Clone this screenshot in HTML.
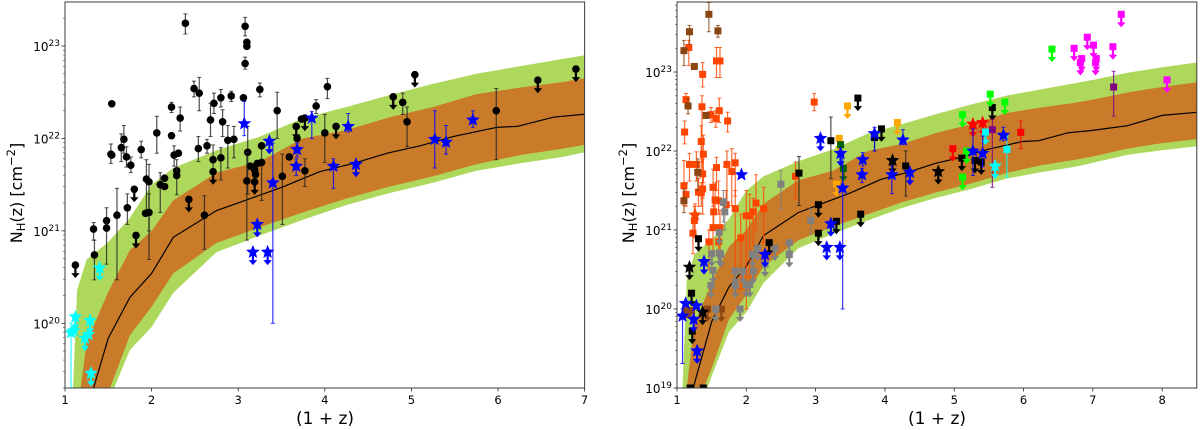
<!DOCTYPE html>
<html lang="en">
<head>
<meta charset="utf-8">
<title>NH(z) versus (1+z)</title>
<style>
html,body{margin:0;padding:0;background:#fff;width:1200px;height:430px;overflow:hidden}
svg{display:block}
text{font-family:"DejaVu Sans","Liberation Sans",sans-serif;fill:#000}
</style>
</head>
<body>
<svg id="chart" xmlns="http://www.w3.org/2000/svg" width="1200" height="430" viewBox="0 0 1200 430">
  <text x="325" y="424" text-anchor="middle" font-size="17">(1 + z)</text>
  <text x="937" y="424" text-anchor="middle" font-size="17">(1 + z)</text>
  <text transform="translate(22,193) rotate(-90)" text-anchor="middle" font-size="16">N<tspan font-size="11.5" dy="3">H</tspan><tspan dy="-3">(z) [cm</tspan><tspan font-size="11.5" dy="-7">−2</tspan><tspan dy="7">]</tspan></text>
  <text transform="translate(634,193) rotate(-90)" text-anchor="middle" font-size="16">N<tspan font-size="11.5" dy="3">H</tspan><tspan dy="-3">(z) [cm</tspan><tspan font-size="11.5" dy="-7">−2</tspan><tspan dy="7">]</tspan></text>
</svg>
<script>
// Shared model bands: x = (1+z), values = log10 NH
const bandX = [1.08,1.14,1.25,1.5,1.75,2.0,2.25,2.75,3.25,3.75,4.25,4.75,5.25,5.75,6.25,6.75,7,7.5,8,8.5];
const outerUpper = [19.0,20.36,20.69,20.88,21.14,21.50,21.68,21.87,22.02,22.22,22.34,22.47,22.59,22.70,22.78,22.86,22.90,22.99,23.06,23.12];
const innerUpper = [17.5,19.0,19.8,20.34,20.79,21.0,21.33,21.63,21.75,22.0,22.09,22.23,22.34,22.48,22.55,22.61,22.65,22.74,22.81,22.87];
const innerLower = [16.0,17.0,18.7,19.25,19.87,20.18,20.54,20.87,21.04,21.2,21.35,21.48,21.59,21.72,21.82,21.89,21.93,22.03,22.10,22.15];
const outerLower = [16.0,16.5,18.4,19.15,19.71,19.96,20.33,20.77,20.95,21.12,21.28,21.41,21.52,21.65,21.73,21.80,21.85,21.95,22.01,22.06];
const medianX = [1.08,1.14,1.25,1.5,1.75,2.0,2.25,2.75,3.08,3.5,3.94,4.33,4.72,5.10,5.48,5.99,6.22,6.64,6.98,7.5,8,8.5];
const medianY = [18,18.5,19.05,19.84,20.28,20.54,20.93,21.22,21.33,21.47,21.64,21.73,21.84,21.92,22.02,22.12,22.13,22.23,22.26,22.32,22.45,22.49];

// Left panel: [x, log10 NH, errHigh, errLow]
const leftBlackPoints = [
[2.39,23.245,23.347,23.13],[3.08,23.213,23.31,23.11],[3.10,23.04],[3.10,22.996],[3.08,22.81,22.88,22.75],[1.54,22.375],
[2.49,22.54,22.62,22.45],[2.55,22.49,22.66,22.30],[3.25,22.53,22.60,22.45],[4.03,22.56,22.65,22.43],[2.72,22.38,22.49,22.27],
[2.80,22.44,22.53,22.34],[2.92,22.46,22.51,22.40],[3.06,22.44],[2.23,22.34,22.39,22.28],[2.33,22.22,22.34,22.08],
[2.68,22.20,22.38,22.02],[2.82,22.18,22.31,22.02],[3.45,22.30,22.50,22.0],[3.90,22.35,22.42,22.27],[3.73,22.21],[3.68,22.0],
[2.06,22.06,22.24,21.84],[1.68,21.99,22.14,21.84],[2.23,22.03],[2.88,21.98,22.14,21.68],[2.95,21.99,22.13,21.79],
[4.0,22.06,22.26,21.74],[1.65,21.90,22.05,21.75],[1.53,21.83,21.94,21.73],[1.54,21.82],[1.71,21.80,21.91,21.69],
[1.76,21.71,21.80,21.63],[1.88,21.88,21.97,21.79],[2.54,21.89,22.02,21.75],[2.64,21.92,21.99,21.84],[2.31,21.84],
[2.26,21.82,21.92,21.7],[2.71,21.77,21.93,21.55],[2.80,21.79,21.90,21.55],[3.11,21.85,22.13,21.4],[3.27,21.92,21.94,21.33],
[3.22,21.73],[3.27,21.74],[3.14,21.70],[3.19,21.66],[3.20,21.61],[3.59,21.80],[3.77,21.65,21.78,21.48],[3.51,21.59,21.83,21.07],
[2.29,21.65],[2.29,21.60,21.77,21.39],[2.15,21.57],[2.15,21.48],[2.10,21.50,21.63,21.2],[1.94,21.56,21.77,21.2],
[1.97,21.53,21.72,21.0],[1.97,21.20,21.4,20.69],[1.93,21.19],[3.10,21.54,21.85,20.9],[2.61,21.17,21.38,20.80],
[1.72,21.25,21.4,21.07],[1.60,21.17,21.46,20.47],[1.48,21.11,21.25,21.0],[1.48,21.03,21.11,20.64],[1.33,21.02,21.09,20.9],
[1.34,20.74,20.90,20.47],[4.90,22.39,22.49,22.26],[4.95,22.18,22.34,21.91],[5.98,22.30,22.54,21.77]
];
const leftBlackLimits = [
[3.77,22.22],[3.67,22.13],[2.71,21.64],[1.80,21.45],[3.19,21.53],[2.43,21.34],[1.82,20.95],[1.12,20.63],
[4.13,22.13],[4.79,22.45],[5.04,22.69],[6.46,22.63],[6.90,22.75]
];
const leftBluePoints = [
[3.07,22.16,22.40,22.03],[3.68,21.88,21.95,21.8],[3.67,21.70,21.78,21.60],[3.85,22.22,22.29,22.0],[3.40,21.52,21.95,20.0],
[4.27,22.13,22.27,22.07],[4.10,21.70,21.78,21.46],[5.27,21.99,22.30,21.68],[5.40,21.96,22.14,21.83],[5.71,22.20,22.30,22.12]
];
const leftBlueLimits = [[3.36,21.97],[3.22,21.07],[3.17,20.77],[3.34,20.77],[4.36,21.72]];
const leftCyanPoints = [[1.07,19.90,20.0,19.3],[1.10,19.92],[1.27,19.88]];
const leftCyanLimits = [[1.12,20.07],[1.29,20.03],[1.23,19.84],[1.40,20.60],[1.30,19.46]];

// Right panel
const rightOrangeSquares = [
[1.17,23.31,23.40,23.08],[1.37,22.97,23.12,22.81],[1.57,23.14,23.31,22.93],[1.62,23.14,23.31,22.93],[1.13,22.65,22.73,22.57],
[1.36,22.56,22.7,21.86],[1.49,22.46,22.55,22.36],[1.61,22.51,22.67,22.36],[1.56,22.41,22.51,22.30],[1.73,22.38,22.49,22.24],
[1.11,22.24,22.38,22.09],[1.35,22.12,22.32,21.73],[2.98,22.62,22.73,22.51],[1.38,21.96,22.2,21.6],[1.18,21.83,21.97,21.62],
[1.28,21.83,21.99,21.62],[1.72,21.83,22.0,21.35],[1.84,21.85,21.97,21.43],[1.57,21.79,21.92,21.5],[1.79,21.74,22.03,21.31],
[1.37,21.71,21.9,21.4],[1.10,21.56,21.88,21.31],[2.71,21.68,21.86,21.39],[1.52,21.54,21.77,21.3],[1.13,21.45,21.6,21.3],
[1.31,21.48,21.65,21.3],[1.35,21.47,21.6,21.3],[1.37,21.52,21.7,21.2],[1.55,21.38,21.6,21.2],[1.60,21.37,21.62,21.2],
[1.71,21.32,21.5,21.2],[2.14,21.34,21.70,21.0],[1.84,21.27,21.5,20.21],[2.25,21.27,21.54,20.84],[1.53,21.23,21.4,21.0],
[2.10,21.23,21.4,20.8],[2.0,21.18,21.5,20.0],[2.05,21.18,21.45,20.4],[1.25,21.12,21.3,20.9],[1.23,20.96,21.2,20.7],
[1.52,21.03,21.25,20.7],[1.62,21.03,21.25,20.6],[1.46,20.85,21.0,20.5],[1.60,20.85,21.0,20.6],[1.92,20.90,21.2,20.25]
];
const rightOrangeStars = [[1.26,21.19,21.33,20.95]];
const rightBrownSquares = [
[1.46,23.73,23.88,23.51],[1.18,23.51,23.59,23.35],[1.59,23.52,23.59,23.44],[1.10,23.27,23.40,23.08],[1.25,23.07],
[1.16,22.57,22.66,22.47],[1.42,22.45],[1.30,21.73,21.9,21.5],[1.10,21.37,21.52,21.22],[1.12,19.98],[1.21,19.98],[1.16,19.93]
];
const rightBrownLimits = [[1.44,20.0],[1.64,20.0]];
const rightGraySquares = [[2.50,21.58,21.75,21.27],[1.67,21.35,21.5,21.1],[1.69,21.23,21.4,21.0],[2.93,21.12,21.27,20.95]];
const rightGrayLimits = [
[1.61,20.97],[1.50,20.70],[1.61,20.71],[1.63,20.69],[1.52,20.49],[1.49,20.30],[1.84,20.48],[1.95,20.48],[1.84,20.30],
[2.0,20.31],[2.05,20.31],[2.10,20.48],[2.09,20.69],[2.16,20.77],[1.56,20.0],[1.91,20.0],[2.41,20.77],[2.62,20.84],[2.62,20.69],[2.27,20.57]
];
const rightBlackSquares = [[2.76,21.72,21.93,21.31],[3.22,22.13,22.43,21.65],[4.30,21.81,22.0,21.43],[1.19,19.0],[1.38,19.0],[3.85,22.17,22.25,22.0]];
const rightBlackLimits = [
[3.04,21.32],[3.04,20.96],[2.33,20.84],[3.30,21.11],[1.31,20.89],[1.21,20.20],[1.22,19.72],[3.61,22.67],[3.95,22.28],
[3.65,21.20],[5.11,21.91],[5.30,21.88],[5.39,21.86],[5.55,22.55]
];
const rightBlackStarLimits = [[1.18,20.53],[1.37,19.96],[4.11,21.88],[4.77,21.74]];
const rightOrangeLimits = [[3.46,22.57],[3.34,22.16],[3.30,21.58],[4.18,22.36]];
const rightDarkGreenLimits = [[3.36,22.08],[3.40,21.78]];
const rightRedSquares = [[5.96,22.236,22.38,22.03]];
const rightRedLimits = [[4.98,22.03]];
const rightRedStarLimits = [[5.27,22.34],[5.41,22.36]];
const rightGreenLimits = [[5.12,22.46],[5.12,21.67],[5.52,22.72],[5.73,22.62],[5.18,22.0],[6.41,23.29]];
const rightCyanSquares = [[5.76,22.02,22.19,21.67]];
const rightCyanLimits = [[5.45,22.24]];
const rightCyanStarLimits = [[5.59,21.81]];
const rightPurpleSquares = [[5.55,22.27,22.4,21.54],[7.30,22.81,23.01,22.44]];
const rightMagentaLimits = [[7.41,23.73],[6.92,23.44],[7.01,23.34],[6.73,23.30],[7.29,23.32],[6.84,23.17],[6.82,23.12],[7.05,23.17],[7.04,23.12],[8.07,22.90]];
const rightBluePoints = [
[3.85,22.22,22.3,22.0],[4.26,22.14,22.27,22.08],[3.68,21.89,21.98,21.81],[3.67,21.70,21.78,21.60],[4.10,21.70,21.81,21.46],
[5.27,22.0,22.28,21.69],[5.41,21.97,22.19,21.8],[5.71,22.20,22.30,22.13],[3.39,21.53,21.95,20.0],[1.93,21.70],
[1.125,20.07],[1.28,20.04],[1.08,19.91,20.0,19.31]
];
const rightBlueLimits = [
[4.36,21.73],[3.07,22.16],[3.36,21.97],[3.22,21.08],[3.16,20.78],[3.35,20.78],[2.27,20.69],[1.39,20.6],[1.24,19.87],[1.29,19.47]
];

// Axis tick values
const leftXTicks = [1,2,3,4,5,6,7];
const rightXTicks = [1,2,3,4,5,6,7,8];
const leftYDecades = [20,21,22,23];
const rightYDecades = [19,20,21,22,23];
const minorMultipliers = [2,3,4,5,6,7,8,9];

const svg = document.getElementById('chart');
const NS = 'http://www.w3.org/2000/svg';
function mk(tag, attrs, parent) {
  const el = document.createElementNS(NS, tag);
  for (const k in attrs) el.setAttribute(k, attrs[k]);
  parent.appendChild(el);
  return el;
}

function makePanel(id, box, xMin, xMax, yMin, yMax, xTicks, yDecades) {
  const root = mk('g', {}, svg);
  
  
  const defs = mk('defs', {}, root);
  const cp = mk('clipPath', {id: id + '-clip'}, defs);
  mk('rect', {x: box.l, y: box.t, width: box.r - box.l, height: box.b - box.t}, cp);
  const xs = v => box.l + (v - xMin) / (xMax - xMin) * (box.r - box.l);
  const ys = v => box.b - (v - yMin) / (yMax - yMin) * (box.b - box.t);
  const plot = mk('g', {'clip-path': 'url(#' + id + '-clip)'}, root);
  
  
  return {root, plot, xs, ys, box, xMin, xMax, yMin, yMax, xTicks, yDecades, id};
}

function drawBands(p) {
  // keep geometry that is hidden below the axis inside the frame
  const yc = v => Math.min(p.ys(v), p.box.b + 35).toFixed(1);
  const area = (up, lo) => {
    let d = '';
    bandX.forEach((x, i) => { d += (i ? 'L' : 'M') + p.xs(x).toFixed(1) + ' ' + yc(up[i]); });
    for (let i = bandX.length - 1; i >= 0; i--) d += 'L' + p.xs(bandX[i]).toFixed(1) + ' ' + yc(lo[i]);
    return d + 'Z';
  };
  const outer = mk('path', {d: area(outerUpper, outerLower), fill: '#aed85c'}, p.plot);
  
  
  const inner = mk('path', {d: area(innerUpper, innerLower), fill: '#c97b2a'}, p.plot);
  
  
  const pts = medianX.map((x, i) => p.xs(x).toFixed(1) + ',' + yc(medianY[i])).join(' ');
  const line = mk('polyline', {points: pts, fill: 'none', stroke: '#000', 'stroke-width': 1.2}, p.plot);
  
  
}

function starPath(cx, cy, R) {
  let d = '';
  for (let i = 0; i < 10; i++) {
    const r = i % 2 ? R * 0.44 : R;
    const a = -Math.PI / 2 + i * Math.PI / 5;
    d += (i ? 'L' : 'M') + (cx + r * Math.cos(a)).toFixed(2) + ' ' + (cy + r * Math.sin(a)).toFixed(2);
  }
  return d + 'Z';
}

function drawMarker(g, shape, cx, cy, color) {
  if (shape === 'circle') mk('circle', {cx, cy, r: 3.8, fill: color}, g);
  else if (shape === 'square') mk('rect', {x: cx - 3.5, y: cy - 3.5, width: 7, height: 7, fill: color}, g);
  else mk('path', {d: starPath(cx, cy, 7.2), fill: color}, g);
}

function drawPoints(p, rows, color, shape, name, errColor) {
  rows.forEach(row => {
    const g = mk('g', {}, p.plot);
    
    
    const cx = p.xs(row[0]), cy = p.ys(row[1]);
    if (row.length > 2) {
      const y1 = p.ys(row[2]), y2 = p.ys(row[3]);
      const ec = errColor || color;
      mk('line', {x1: cx, x2: cx, y1, y2, stroke: ec, 'stroke-width': 1.2, 'stroke-opacity': 0.8}, g);
      mk('line', {x1: cx - 2, x2: cx + 2, y1, y2: y1, stroke: ec, 'stroke-width': 1, 'stroke-opacity': 0.8}, g);
      mk('line', {x1: cx - 2, x2: cx + 2, y1: y2, y2, stroke: ec, 'stroke-width': 1, 'stroke-opacity': 0.8}, g);
    }
    drawMarker(g, shape, cx, cy, color);
  });
}

function drawLimits(p, rows, color, shape, name) {
  rows.forEach(row => {
    const g = mk('g', {}, p.plot);
    
    
    const cx = p.xs(row[0]), cy = p.ys(row[1]);
    mk('line', {x1: cx, x2: cx, y1: cy, y2: cy + 9, stroke: color, 'stroke-width': 2.2}, g);
    mk('path', {d: 'M' + (cx - 4.2) + ' ' + (cy + 8) + 'L' + (cx + 4.2) + ' ' + (cy + 8) + 'L' + cx + ' ' + (cy + 13) + 'Z', fill: color}, g);
    drawMarker(g, shape, cx, cy, color);
  });
}

function drawAxes(p) {
  const {box, root} = p;
  const frame = mk('rect', {x: box.l, y: box.t, width: box.r - box.l, height: box.b - box.t, fill: 'none', stroke: '#3c3c3c', 'stroke-width': 1}, root);
  
  
  p.xTicks.forEach(t => {
    const x = p.xs(t);
    const tick = mk('line', {x1: x, x2: x, y1: box.b, y2: box.b + 3.5, stroke: '#222', 'stroke-width': 0.8}, root);
    
    
    const label = mk('text', {x, y: box.b + 16, 'text-anchor': 'middle', 'font-size': 11.5}, root);
    
    
    label.textContent = String(t);
  });
  for (let d = Math.floor(p.yMin); d < Math.ceil(p.yMax); d++) {
    minorMultipliers.forEach(m => {
      const v = d + Math.log10(m);
      if (v < p.yMin || v > p.yMax) return;
      const tick = mk('line', {x1: box.l - 2, x2: box.l, y1: p.ys(v), y2: p.ys(v), stroke: '#444', 'stroke-width': 0.6}, root);
      
      
    });
  }
  p.yDecades.forEach(d => {
    const y = p.ys(d);
    const tick = mk('line', {x1: box.l - 3.5, x2: box.l, y1: y, y2: y, stroke: '#222', 'stroke-width': 0.8}, root);
    
    
    const label = mk('text', {x: box.l - 5, y: y + 5, 'text-anchor': 'end', 'font-size': 12}, root);
    
    
    const base = mk('tspan', {}, label);
    base.textContent = '10';
    const exp = mk('tspan', {'font-size': 9, dy: -5}, label);
    exp.textContent = String(d);
  });
}

// Left panel
const left = makePanel('left', {l: 65, r: 584.6, t: 2, b: 388}, 1, 7, 19.30, 23.476, leftXTicks, leftYDecades);
drawBands(left);
drawPoints(left, leftBlackPoints, '#000', 'circle', 'black-detection-point', '#222');
drawLimits(left, leftBlackLimits, '#000', 'circle', 'black-upper-limit');
drawPoints(left, leftBluePoints, '#0000ff', 'star', 'blue-star-detection');
drawLimits(left, leftBlueLimits, '#0000ff', 'star', 'blue-star-upper-limit');
drawPoints(left, leftCyanPoints, '#00ffff', 'star', 'cyan-star-detection');
drawLimits(left, leftCyanLimits, '#00ffff', 'star', 'cyan-star-upper-limit');
drawAxes(left);

// Right panel
const right = makePanel('right', {l: 677, r: 1196.8, t: 2, b: 388}, 1, 8.5, 19, 23.886, rightXTicks, rightYDecades);
drawBands(right);
drawPoints(right, rightOrangeSquares, '#ff4500', 'square', 'orange-red-detection');
drawPoints(right, rightOrangeStars, '#ff4500', 'star', 'orange-red-star-detection');
drawPoints(right, rightBrownSquares, '#8b4513', 'square', 'brown-detection');
drawLimits(right, rightBrownLimits, '#8b4513', 'square', 'brown-upper-limit');
drawPoints(right, rightGraySquares, '#808080', 'square', 'gray-detection');
drawLimits(right, rightGrayLimits, '#808080', 'square', 'gray-upper-limit');
drawPoints(right, rightBlackSquares, '#000', 'square', 'black-square-detection', '#222');
drawLimits(right, rightBlackLimits, '#000', 'square', 'black-square-upper-limit');
drawLimits(right, rightBlackStarLimits, '#000', 'star', 'black-star-upper-limit');
drawLimits(right, rightOrangeLimits, '#ffa500', 'square', 'orange-upper-limit');
drawLimits(right, rightDarkGreenLimits, '#006400', 'square', 'dark-green-upper-limit');
drawPoints(right, rightRedSquares, '#ff0000', 'square', 'red-detection');
drawLimits(right, rightRedLimits, '#ff0000', 'square', 'red-upper-limit');
drawLimits(right, rightRedStarLimits, '#ff0000', 'star', 'red-star-upper-limit');
drawLimits(right, rightGreenLimits, '#00ff00', 'square', 'green-upper-limit');
drawPoints(right, rightPurpleSquares, '#800080', 'square', 'purple-detection');
drawLimits(right, rightMagentaLimits, '#ff00ff', 'square', 'magenta-upper-limit');
drawPoints(right, rightCyanSquares, '#00ffff', 'square', 'cyan-detection');
drawLimits(right, rightCyanLimits, '#00ffff', 'square', 'cyan-upper-limit');
drawLimits(right, rightCyanStarLimits, '#00ffff', 'star', 'cyan-star-upper-limit');
drawPoints(right, rightBluePoints, '#0000ff', 'star', 'blue-star-detection');
drawLimits(right, rightBlueLimits, '#0000ff', 'star', 'blue-star-upper-limit');
drawAxes(right);
</script>
</body>
</html>
